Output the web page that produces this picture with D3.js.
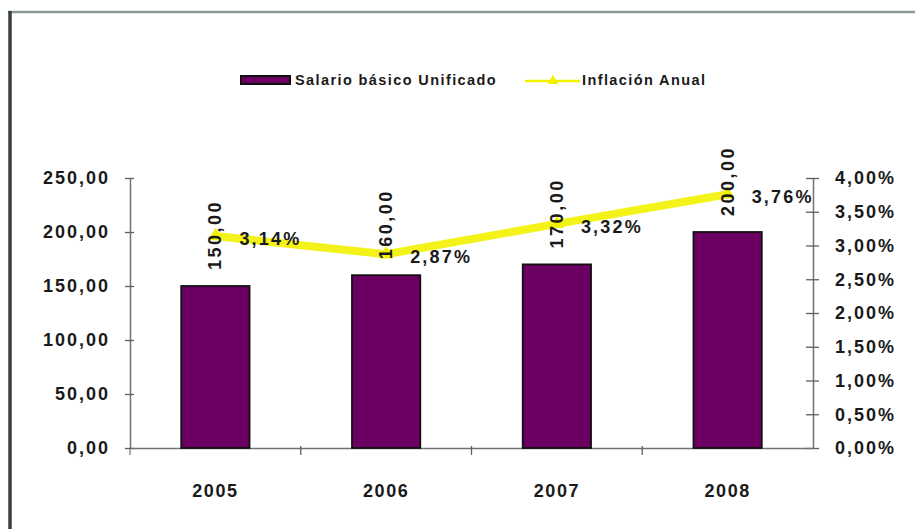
<!DOCTYPE html>
<html>
<head>
<meta charset="utf-8">
<script src="https://cdn.jsdelivr.net/npm/d3@7"></script>
<style>
  body { margin: 0; background: #fff; }
  text { font-family: "Liberation Sans", Arial, sans-serif; font-weight: bold; fill: #1a1a1a; }
</style>
</head>
<body>
<div id="chart"></div>
<script>
// chart data
var years = ["2005", "2006", "2007", "2008"];
var salario = [150, 160, 170, 200];
var inflacion = [0.0314, 0.0287, 0.0332, 0.0376];
var leftTicks = [0, 50, 100, 150, 200, 250];
var rightTicks = [0, 0.005, 0.01, 0.015, 0.02, 0.025, 0.03, 0.035, 0.04];
var seriesNames = ["Salario básico Unificado", "Inflación Anual"];

var width = 915;
var height = 529;
var barColor = "#6c0062";
var lineColor = "#f2f200";

// spanish number style: comma as decimal sign
var es = d3.formatLocale({decimal: ",", thousands: ".", grouping: [3], currency: ["", "$"]});
var fmtNum = es.format(".2f");
var fmtPct = es.format(".2%");

var svg = d3.select("#chart")
    .append("svg")
    .attr("width", width)
    .attr("height", height);

// frame (only top and left are visible)
svg.append("line")
    .attr("x1", 8).attr("x2", width).attr("y1", 12).attr("y2", 12)
    .style("stroke", "#8c9898").style("stroke-width", 2.5);
svg.append("line")
    .attr("x1", 10).attr("x2", 10).attr("y1", 11).attr("y2", height)
    .style("stroke", "#3a4040").style("stroke-width", 3.5);

var x = d3.scaleBand()
    .domain(years)
    .range([130, 813])
    .paddingInner(0.6)
    .paddingOuter(0.3);

var yLeft = d3.scaleLinear().domain([0, 250]).range([448, 178]);
var yRight = d3.scaleLinear().domain([0, 0.04]).range([448, 178]);

// left axis
var gLeft = svg.append("g")
    .attr("transform", "translate(130,0)")
    .call(d3.axisLeft(yLeft).tickValues(leftTicks).tickFormat(fmtNum).tickSizeInner(6).tickSizeOuter(0).tickPadding(14));
gLeft.selectAll("line").attr("x2", -5).attr("x1", 4);

// right axis
var gRight = svg.append("g")
    .attr("transform", "translate(813,0)")
    .call(d3.axisRight(yRight).tickValues(rightTicks).tickFormat(fmtPct).tickSizeInner(6).tickSizeOuter(0).tickPadding(16));
gRight.selectAll("line").attr("x1", -7).attr("x2", 6);

// bottom axis, ticks sit between the categories
var gBottom = svg.append("g")
    .attr("transform", "translate(0,448)")
    .call(d3.axisBottom(x).tickSize(0).tickPadding(36));
gBottom.selectAll(".tick")
  .filter(function(d, i) { return i > 0; })
  .append("line")
    .attr("x1", -x.step() / 2).attr("x2", -x.step() / 2)
    .attr("y1", -2).attr("y2", 7);
gBottom.append("line")
    .attr("class", "tick-left")
    .attr("x1", 130).attr("x2", 130).attr("y1", 0).attr("y2", 7)
    .style("stroke", "#5a6060");

[gLeft, gRight, gBottom].forEach(function(g) {
    g.select(".domain").style("stroke", "#6e7474").style("stroke-width", 1.5);
    g.selectAll(".tick line").style("stroke", "#5a6060").style("stroke-width", 1.3);
    g.selectAll("text")
      .style("font-family", "Liberation Sans, Arial, sans-serif")
      .style("font-weight", "bold")
      .style("font-size", "18px")
      .style("letter-spacing", "2px")
      .style("fill", "#1a1a1a");
});
gBottom.selectAll("text").style("letter-spacing", "1.5px");

// bars
svg.append("g")
  .selectAll("rect")
    .data(years)
  .enter().append("rect")
    .attr("x", function(d) { return x(d); })
    .attr("y", function(d, i) { return yLeft(salario[i]); })
    .attr("width", x.bandwidth())
    .attr("height", function(d, i) { return yLeft(0) - yLeft(salario[i]); })
    .style("fill", barColor)
    .style("stroke", "#111")
    .style("stroke-width", 1.8);

// inflation line
var line = d3.line()
    .x(function(d, i) { return x(years[i]) + x.bandwidth() / 2; })
    .y(function(d) { return yRight(d); });

svg.append("path")
    .datum(inflacion)
    .attr("d", line)
    .style("fill", "none")
    .style("stroke", lineColor)
    .style("stroke-width", 8)
    .style("stroke-linejoin", "round")
    .style("opacity", 0.9);

svg.append("g")
  .selectAll("path")
    .data(inflacion)
  .enter().append("path")
    .attr("d", d3.symbol().type(d3.symbolTriangle).size(90))
    .attr("transform", function(d, i) {
        return "translate(" + (x(years[i]) + x.bandwidth() / 2) + "," + yRight(d) + ")";
    })
    .style("fill", lineColor);

// bar value labels (vertical)
svg.append("g")
  .selectAll("text")
    .data(salario)
  .enter().append("text")
    .attr("transform", function(d, i) {
        return "translate(" + (x(years[i]) + x.bandwidth() / 2) + "," + (yLeft(d) - 16) + ") rotate(-90)";
    })
    .attr("dominant-baseline", "central")
    .style("font-size", "18px")
    .style("letter-spacing", "2.5px")
    .text(function(d) { return fmtNum(d); });

// inflation labels
svg.append("g")
  .selectAll("text")
    .data(inflacion)
  .enter().append("text")
    .attr("x", function(d, i) { return x(years[i]) + x.bandwidth() / 2 + 24; })
    .attr("y", function(d) { return yRight(d) + 3; })
    .attr("dominant-baseline", "central")
    .style("font-size", "18px")
    .style("letter-spacing", "2.2px")
    .text(function(d) { return fmtPct(d); });

// legend
var legend = svg.append("g").attr("class", "legend");
legend.append("rect")
    .attr("x", 241).attr("y", 76).attr("width", 49).attr("height", 8)
    .style("fill", barColor).style("stroke", "#111").style("stroke-width", 2);
legend.append("text")
    .attr("x", 295).attr("y", 80)
    .attr("dominant-baseline", "central")
    .style("font-size", "14.5px")
    .style("letter-spacing", "1.4px")
    .text(seriesNames[0]);
legend.append("line")
    .attr("x1", 525).attr("x2", 580).attr("y1", 81).attr("y2", 81)
    .style("stroke", lineColor).style("stroke-width", 2.5);
legend.append("path")
    .attr("d", d3.symbol().type(d3.symbolTriangle).size(50))
    .attr("transform", "translate(553,81)")
    .style("fill", lineColor);
legend.append("text")
    .attr("x", 582).attr("y", 80)
    .attr("dominant-baseline", "central")
    .style("font-size", "14.5px")
    .style("letter-spacing", "1.4px")
    .text(seriesNames[1]);
</script>
</body>
</html>
